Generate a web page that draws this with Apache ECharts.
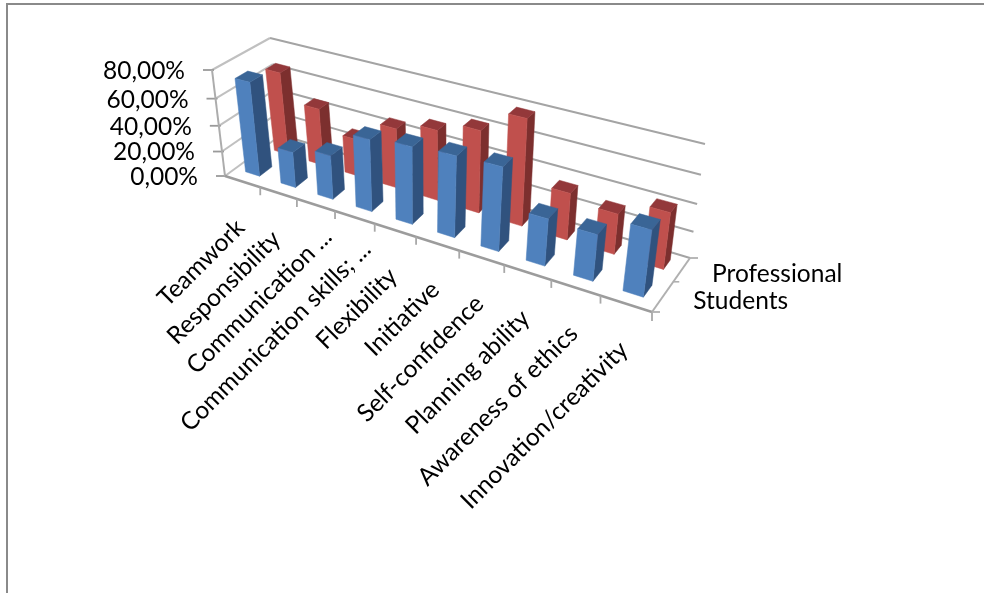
<!DOCTYPE html>
<html>
<head>
<meta charset="utf-8">
<style>html,body{margin:0;padding:0;background:#fff}#chart{width:984px;height:593px}</style>
<script src="https://cdn.jsdelivr.net/npm/echarts@6/dist/echarts.min.js"></script>
</head>
<body>
<div id="chart"></div>
<script>
// Skill ratings by group, in percent
const categories = ['Teamwork', 'Responsibility', 'Communication ...', 'Communication skills; ...', 'Flexibility',
  'Initiative', 'Self-confidence', 'Planning ability', 'Awareness of ethics', 'Innovation/creativity'];
const students = [72, 28, 34, 54, 57, 59, 60, 34, 33, 46];
const professional = [66, 46, 30, 47, 54, 62, 78, 35, 30, 41];
const yTicks = [0, 20, 40, 60, 80];
const seriesNames = ['Students', 'Professional'];

const FONT = 'Lato, Carlito, sans-serif';
const TEXT_FONT = '24.5px ' + FONT;

// Box corners on screen, keyed by [u, v, h]: u along categories, v in depth, h up
const C = {
  '000': [225, 176], '100': [652, 312], '010': [281, 135], '110': [690, 258],
  '001': [212, 70], '101': [669, 187], '011': [270, 38], '111': [705, 144]
};
const warp = (t, w) => (w * t) / ((1 - t) + w * t);
const lerp = (a, b, t) => [a[0] + (b[0] - a[0]) * t, a[1] + (b[1] - a[1]) * t];
function project(u, v, h) {
  const s = warp(u, 0.81), d = warp(v, 1.27), e = warp(h, 0.9);
  const bottomFront = lerp(C['000'], C['100'], s), bottomBack = lerp(C['010'], C['110'], s);
  const topFront = lerp(C['001'], C['101'], s), topBack = lerp(C['011'], C['111'], s);
  return lerp(lerp(bottomFront, bottomBack, d), lerp(topFront, topBack, d), e);
}
// Normalised position along the value axis, from the axis scale
const toH = (api, params, value) => {
  const r = params.coordSys;
  return (r.y + r.height - api.coord([0, value])[1]) / r.height;
};
const toU = (api, params, index) => {
  const r = params.coordSys;
  return (api.coord([index, 0])[0] - r.x) / r.width;
};
const line = (a, b, stroke, width) => ({
  type: 'line', shape: { x1: a[0], y1: a[1], x2: b[0], y2: b[1] },
  style: { stroke, lineWidth: width }
});
const poly = (pts, fill) => ({
  type: 'polygon', shape: { points: pts }, style: { fill, stroke: fill, lineWidth: 0.5 }
});

// One series of box columns, drawn through the category and value scales
function barSeries(name, values, depth, front, side, top) {
  return {
    type: 'custom', name, z: 5,
    data: values.map((v, i) => [i, v]),
    renderItem(params, api) {
      const i = api.value(0), val = api.value(1);
      const uc = toU(api, params, i), h = toH(api, params, val);
      const halfW = 0.02, halfD = 0.1;
      const u0 = uc - halfW, u1 = uc + halfW, v0 = depth - halfD, v1 = depth + halfD;
      return {
        type: 'group',
        children: [
          poly([project(u1, v0, 0), project(u1, v1, 0), project(u1, v1, h), project(u1, v0, h)], side),
          poly([project(u0, v0, h), project(u1, v0, h), project(u1, v1, h), project(u0, v1, h)], top),
          poly([project(u0, v0, 0), project(u1, v0, 0), project(u1, v0, h), project(u0, v0, h)], front)
        ]
      };
    }
  };
}

const option = {
  animation: false,
  backgroundColor: '#fff',
  textStyle: { fontFamily: FONT },
  graphic: [{
    type: 'polyline', silent: true,
    shape: { points: [[7, 593], [7, 4], [984, 4]] },
    style: { stroke: '#8a8a8a', fill: 'none', lineWidth: 2 }
  }],
  grid: { left: 225, top: 70, width: 427, height: 106 },
  xAxis: { type: 'category', data: categories, show: false },
  yAxis: {
    type: 'value', min: 0, max: 80, interval: 20,
    axisLine: { show: false }, axisTick: { show: false }, splitLine: { show: false },
    axisLabel: { show: false }
  },
  series: [
    // Wall gridlines with value ticks and labels that follow the slanted wall edge
    {
      type: 'custom', z: 1, data: yTicks.map(v => [0, v]),
      renderItem(params, api) {
        const val = api.value(1);
        const h = toH(api, params, val);
        const a = project(0, 0, h), b = project(0, 1, h), c = project(1, 1, h);
        return {
          type: 'group',
          children: [
            line(a, b, '#c0c0c0', 2),
            line(b, c, '#a4a4a4', 2),
            line([a[0] - 9, a[1]], [a[0] + 2, a[1]], '#9a9a9a', 1.8),
            {
              type: 'text',
              style: {
                x: a[0] - 27, y: a[1] + 1, text: val.toFixed(2).replace('.', ',') + '%',
                fill: '#000', font: TEXT_FONT, textAlign: 'right', textVerticalAlign: 'middle'
              }
            }
          ]
        };
      }
    },
    // Box edges and depth axis with its series names
    {
      type: 'custom', z: 2, data: [[0, 0]],
      renderItem() {
        const o = project(0, 0, 0), r = project(1, 0, 0), br = project(1, 1, 0);
        const kids = [
          line(o, project(0, 0, 1), '#acacac', 2),
          line(o, r, '#9c9c9c', 2.4),
          line(r, br, '#b0b0b0', 2),
          line(br, [br[0] + 8, br[1]], '#b0b0b0', 1.8),
          line(r, [r[0], r[1] + 9], '#a8a8a8', 1.8),
          line(r, [r[0] + 8, r[1]], '#b0b0b0', 1.8)
        ];
        const mid = project(1, 0.5, 0);
        kids.push(line(mid, [mid[0] + 6, mid[1]], '#b0b0b0', 1.6));
        seriesNames.forEach((name, i) => {
          const p = project(1, 0.25 + 0.5 * i, 0);
          kids.push({
            type: 'text',
            style: { x: p[0] + 30, y: p[1] + 5, text: name, fill: '#000', font: TEXT_FONT, textAlign: 'left', textVerticalAlign: 'middle' }
          });
        });
        return { type: 'group', children: kids };
      }
    },
    // Category ticks and slanted names; shortened names sit further along their slant
    {
      type: 'custom', z: 3, data: categories.map((c, i) => [i, 0]),
      renderItem(params, api) {
        const i = api.value(0);
        const uc = toU(api, params, i);
        const step = api.size([1, 0])[0] / params.coordSys.width;
        const tick = project(uc + step / 2, 0, 0);
        const foot = project(uc, 0, 0);
        const slide = categories[i].endsWith('...') ? 14 : 0;
        const kids = [{
          type: 'text', rotation: Math.PI / 4, x: foot[0] - 2 + slide, y: foot[1] + 42 - slide,
          style: { x: 0, y: 0, text: categories[i], fill: '#000', font: TEXT_FONT, textAlign: 'right', textVerticalAlign: 'middle' }
        }];
        if (i < categories.length - 1) kids.push(line(tick, [tick[0], tick[1] + 8], '#a8a8a8', 1.8));
        return { type: 'group', children: kids };
      }
    },
    barSeries(seriesNames[1], professional, 0.75, '#c0504d', '#7c2f2e', '#93383a'),
    barSeries(seriesNames[0], students, 0.25, '#4f81bd', '#30527e', '#3a6596')
  ]
};

echarts.init(document.getElementById('chart'), null, { renderer: 'canvas' }).setOption(option);
</script>
</body>
</html>
